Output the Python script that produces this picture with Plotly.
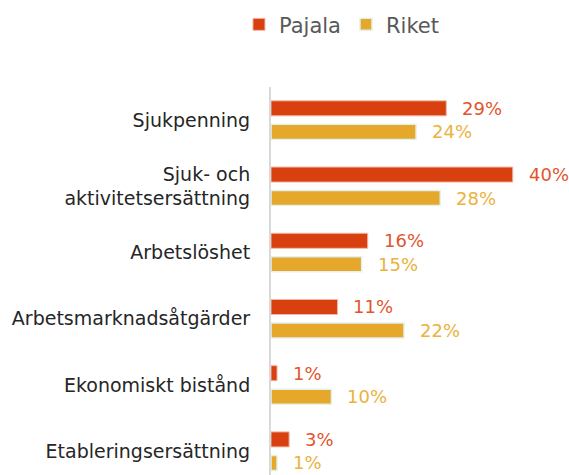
import plotly.graph_objects as go

categories = [
    "Sjukpenning",
    "Sjuk- och<br>aktivitetsersättning",
    "Arbetslöshet",
    "Arbetsmarknadsåtgärder",
    "Ekonomiskt bistånd",
    "Etableringsersättning",
]
pajala = [29, 40, 16, 11, 1, 3]
riket = [24, 28, 15, 22, 10, 1]

RED = "#D9400F"
GOLD = "#E5A82A"
RED_TXT = "#E2552D"
GOLD_TXT = "#EAB23E"
FONT = "DejaVu Sans"

idx = list(range(len(categories)))

fig = go.Figure()
fig.add_trace(go.Bar(
    name="Pajala", y=idx, x=pajala, orientation="h",
    marker=dict(color=RED, line=dict(color="#F0B8A8", width=1)),
))
fig.add_trace(go.Bar(
    name="Riket", y=idx, x=riket, orientation="h",
    marker=dict(color=GOLD, line=dict(color="#E3F1EE", width=1.5)),
))

# value labels placed just past the end of each bar
off = 0.178
for i in idx:
    fig.add_annotation(x=pajala[i], y=i - off, text=f"{pajala[i]}%",
                       xanchor="left", xshift=14, showarrow=False,
                       font=dict(family=FONT, size=18, color=RED_TXT))
    fig.add_annotation(x=riket[i], y=i + off, text=f"{riket[i]}%",
                       xanchor="left", xshift=14, showarrow=False,
                       font=dict(family=FONT, size=18, color=GOLD_TXT))

fig.update_layout(
    width=569, height=475,
    margin=dict(l=271, r=0, t=87, b=0),
    paper_bgcolor="white", plot_bgcolor="white",
    barmode="group", bargap=0.29, bargroupgap=0.36,
    font=dict(family=FONT, color="#262626"),
    legend=dict(
        orientation="h", xref="container", yref="container",
        x=0.42, y=0.948, xanchor="left", yanchor="middle",
        font=dict(family=FONT, size=21, color="#595959"),
        itemwidth=30, tracegroupgap=0,
    ),
    showlegend=True,
)
fig.update_xaxes(range=[0, 49.3], showgrid=False, zeroline=False,
                 showticklabels=False, ticks="")
fig.update_yaxes(
    range=[5.36, -0.5], tickmode="array", tickvals=idx, ticktext=categories,
    showgrid=False, zeroline=False, showline=True, linecolor="#D9D9D9",
    linewidth=2, ticks="outside", ticklen=15, tickcolor="rgba(0,0,0,0)",
    tickfont=dict(family=FONT, size=19, color="#262626"),
)

fig.write_html("out.html")
